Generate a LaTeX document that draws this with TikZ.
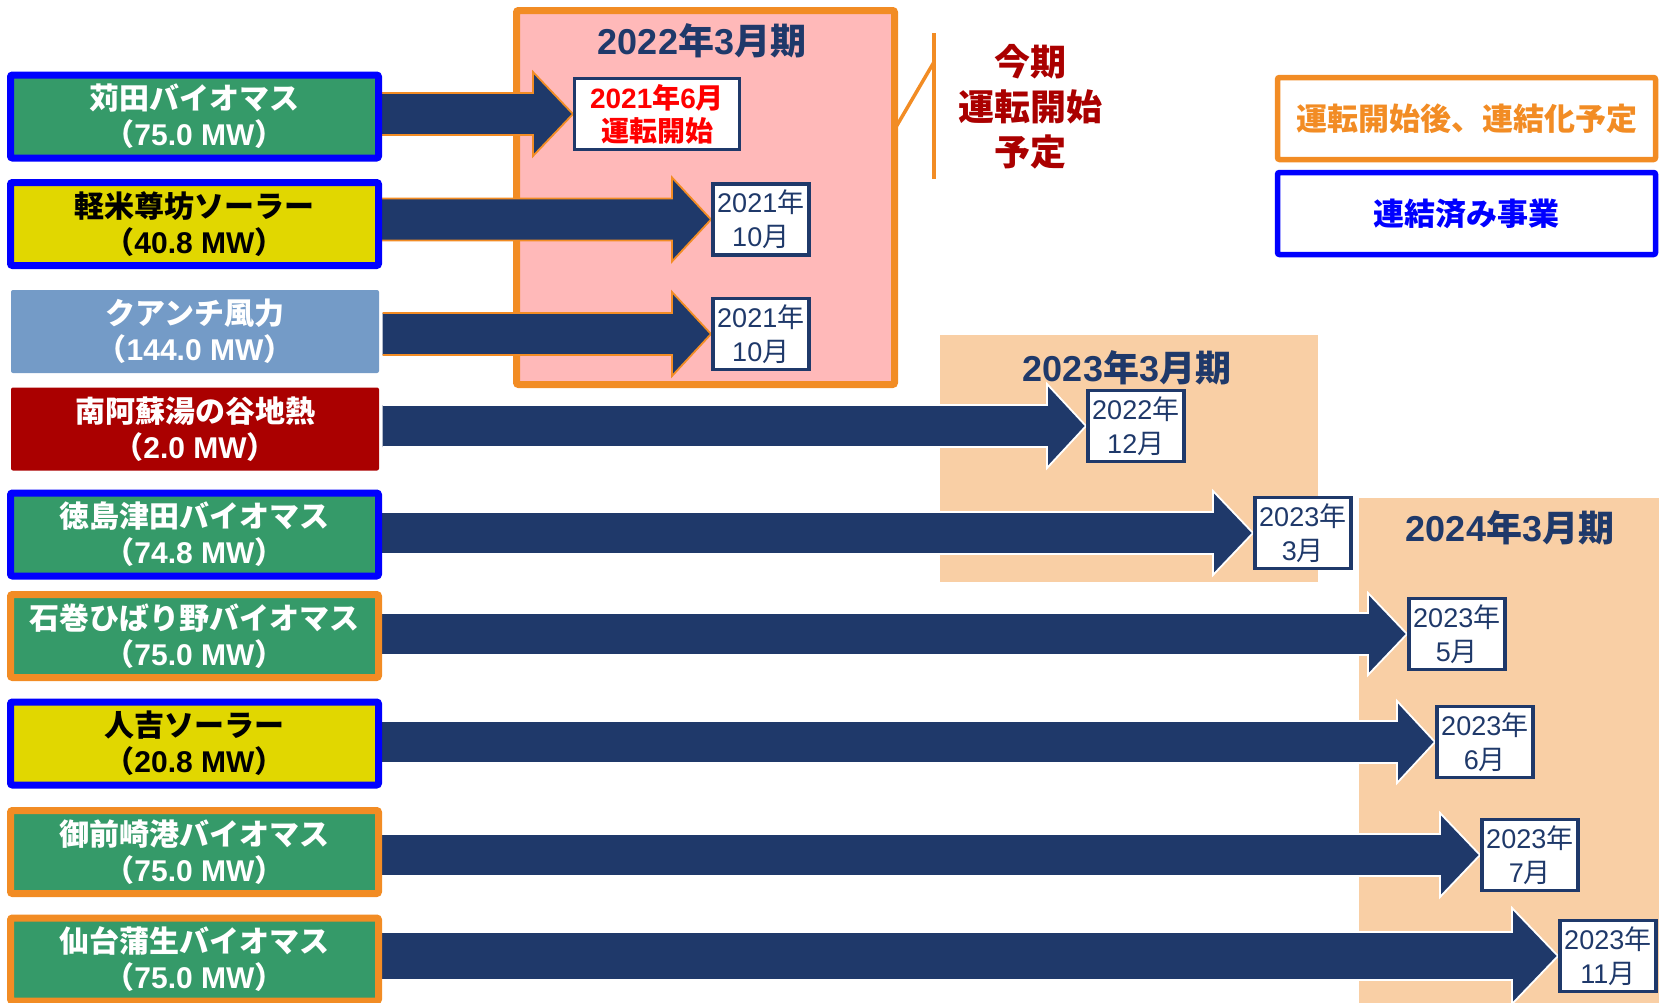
\documentclass[tikz,border=0pt]{standalone}
\usepackage{fontspec}
\setmainfont{Noto Sans CJK JP}
\newfontfamily\arial{Liberation Sans}
\usetikzlibrary{calc}
\definecolor{navy}{RGB}{31,57,106}
\definecolor{pgreen}{RGB}{53,154,105}
\definecolor{pyellow}{RGB}{225,215,0}
\definecolor{pblue}{RGB}{0,0,255}
\definecolor{porange}{RGB}{242,140,36}
\definecolor{psteel}{RGB}{116,155,199}
\definecolor{pdred}{RGB}{170,0,0}
\definecolor{ppink}{RGB}{255,185,185}
\definecolor{ppeach}{RGB}{249,207,165}
\pgfdeclarelayer{back}
\pgfdeclarelayer{arr}
\pgfsetlayers{back,arr,main}
\newcommand\ar[1]{{\arial #1}}
% from node, to node, outline colour, half shaft, half head, head length
\newcommand\bigarrow[6]{%
  \begin{pgfonlayer}{arr}
  \path[fill=navy,draw=#3,line width=1.8pt,line join=miter]
    let \p1=(#1.east), \p2=(#2.west) in
    (\x1,\y2+#4pt) -- (\x2-#6pt,\y2+#4pt) -- (\x2-#6pt,\y2+#5pt) -- (\x2,\y2)
    -- (\x2-#6pt,\y2-#5pt) -- (\x2-#6pt,\y2-#4pt) -- (\x1,\y2-#4pt);
  \end{pgfonlayer}}
\tikzset{
  srcbox/.style={rectangle, minimum width=368pt, minimum height=83pt, inner sep=0pt,
    align=center, font=\bfseries\fontsize{30}{36}\selectfont, line width=7pt, rounded corners=2pt},
  bbox/.style={srcbox, draw=pblue},
  obox/.style={srcbox, draw=porange},
  datebox/.style={rectangle, draw=navy, line width=3.5pt, fill=white, minimum width=96pt,
    minimum height=71pt, inner sep=0pt, align=center, text=navy,
    font=\fontsize{27}{34}\selectfont, anchor=west},
  titletext/.style={text=navy, font=\bfseries\fontsize{36}{40}\selectfont, inner sep=0pt},
  legbox/.style={rectangle, minimum width=378pt, minimum height=82pt, line width=5.5pt,
    rounded corners=2pt, font=\bfseries\fontsize{31}{36}\selectfont, inner sep=0pt}
}
\begin{document}
\begin{tikzpicture}[x=1pt,y=-1pt]
\useasboundingbox (0,0) rectangle (1659,1002);
% period backgrounds
\begin{pgfonlayer}{back}
\filldraw[fill=ppink, draw=porange, line width=7pt, rounded corners=2pt] (516.5,10.5) rectangle (894.5,384.5);
\fill[ppeach] (940,335) rectangle (1318,582);
\fill[ppeach] (1359,498) rectangle (1680,1020);
\end{pgfonlayer}
\node[titletext] (t22) at (702,41) {\ar{2022}年\ar{3}月期};
\node[titletext] (t23) at (1127,368) {\ar{2023}年\ar{3}月期};
\node[titletext] (t24) at (1510,528) {\ar{2024}年\ar{3}月期};
% bracket
\coordinate (brtop) at (934,33);
\coordinate (brbot) at (934,179);
\coordinate (brmid) at (934,62);
\coordinate (brend) at (896,127);
\draw[porange, line width=3.5pt] (brtop) -- (brbot);
\draw[porange, line width=3.5pt] (brmid) -- (brend);
\node[text=pdred, align=center, font=\bfseries\fontsize{36}{45}\selectfont, inner sep=0pt] (kon) at (1030,107) {今期\\運転開始\\予定};
% legend
\node[legbox, draw=porange, text=porange] (l1) at (1466.5,118.5) {運転開始後、連結化予定};
\node[legbox, draw=pblue, text=pblue] (l2) at (1466.5,213.5) {連結済み事業};
% project boxes
\node[bbox, fill=pgreen, text=white] (b1) at (194.5,116.5) {苅田バイオマス\\（\ar{75.0 MW}）};
\node[bbox, fill=pyellow, text=black] (b2) at (194.5,224) {軽米尊坊ソーラー\\（\ar{40.8 MW}）};
\node[srcbox, fill=psteel, text=white] (b3) at (195,331.5) {クアンチ風力\\（\ar{144.0 MW}）};
\node[srcbox, fill=pdred, text=white] (b4) at (195,429) {南阿蘇湯の谷地熱\\（\ar{2.0 MW}）};
\node[bbox, fill=pgreen, text=white] (b5) at (194.5,534.5) {徳島津田バイオマス\\（\ar{74.8 MW}）};
\node[obox, fill=pgreen, text=white] (b6) at (194.5,636) {石巻ひばり野バイオマス\\（\ar{75.0 MW}）};
\node[bbox, fill=pyellow, text=black] (b7) at (194.5,743.5) {人吉ソーラー\\（\ar{20.8 MW}）};
\node[obox, fill=pgreen, text=white] (b8) at (194.5,852) {御前崎港バイオマス\\（\ar{75.0 MW}）};
\node[obox, fill=pgreen, text=white] (b9) at (194.5,959.5) {仙台蒲生バイオマス\\（\ar{75.0 MW}）};
% date boxes
\node[datebox, minimum width=165pt, line width=3pt, text=red,
      font=\bfseries\fontsize{28}{33}\selectfont] (d1) at (573,114) {\ar{2021}年\ar{6}月\\運転開始};
\node[datebox] (d2) at (711,219.5) {\ar{2021}年\\\ar{10}月};
\node[datebox] (d3) at (711,334) {\ar{2021}年\\\ar{10}月};
\node[datebox] (d4) at (1086,426) {\ar{2022}年\\\ar{12}月};
\node[datebox] (d5) at (1253,533) {\ar{2023}年\\\ar{3}月};
\node[datebox] (d6) at (1407,634) {\ar{2023}年\\\ar{5}月};
\node[datebox] (d7) at (1435,742) {\ar{2023}年\\\ar{6}月};
\node[datebox] (d8) at (1480,855) {\ar{2023}年\\\ar{7}月};
\node[datebox] (d9) at (1558,956) {\ar{2023}年\\\ar{11}月};
% arrows
\bigarrow{b1}{d1}{porange}{21}{42}{40}
\bigarrow{b2}{d2}{porange}{21}{42}{39}
\bigarrow{b3}{d3}{porange}{21}{42}{39}
\bigarrow{b4}{d4}{white}{21}{42}{39}
\bigarrow{b5}{d5}{white}{21}{42}{40}
\bigarrow{b6}{d6}{white}{21}{41}{39}
\bigarrow{b7}{d7}{white}{21}{41}{38}
\bigarrow{b8}{d8}{white}{21}{42}{40}
\bigarrow{b9}{d9}{white}{24}{48}{46}
\end{tikzpicture}
\end{document}
